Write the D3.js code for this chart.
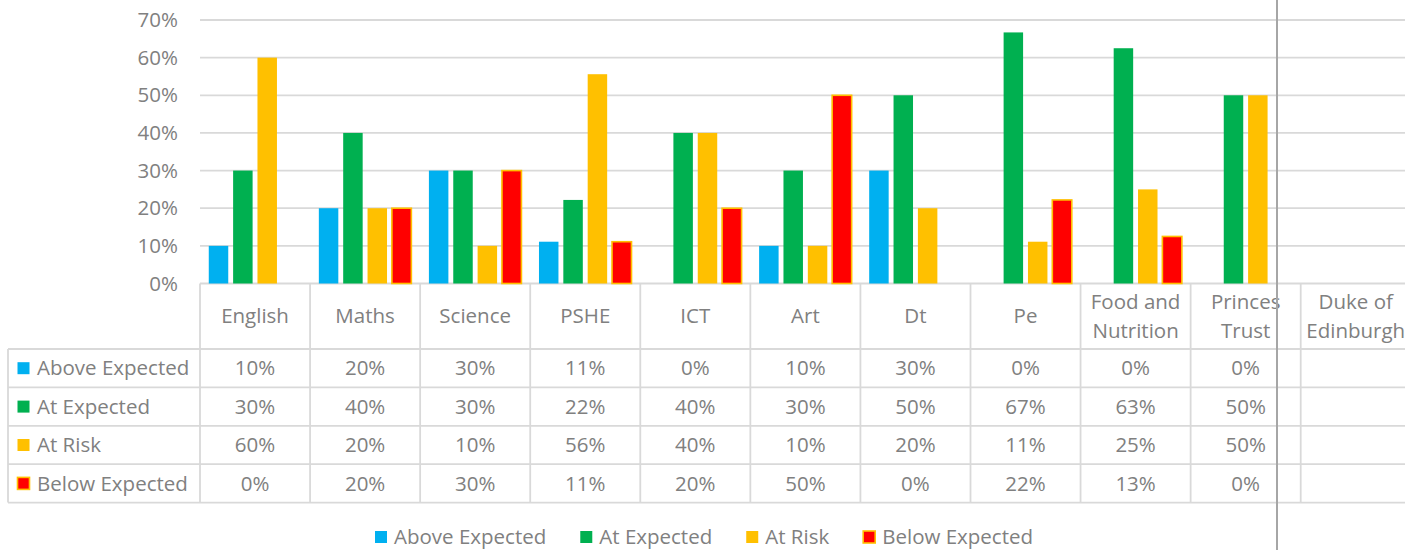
<!DOCTYPE html>
<html lang="en">
<head>
  <meta charset="UTF-8">
  <title>Progress by subject</title>
  <script src="https://d3js.org/d3.v7.min.js"></script>
  <style>
    body { margin: 0; background: #fff; overflow: hidden; }
    svg { display: block; }
    text { font-family: "Open Sans", sans-serif; font-size: 20.5px; fill: #808080; }
  </style>
</head>
<body>
  <svg id="chart" width="1405" height="550"></svg>

  <script>
    // subjects (x categories) and header labels split on lines
    const subjects = ["English", "Maths", "Science", "PSHE", "ICT", "Art", "Dt", "Pe",
      "Food and Nutrition", "Princes Trust", "Duke of Edinburgh"];
    const headerLines = [["English"], ["Maths"], ["Science"], ["PSHE"], ["ICT"], ["Art"], ["Dt"], ["Pe"],
      ["Food and", "Nutrition"], ["Princes", "Trust"], ["Duke of", "Edinburgh"]];

    const seriesNames = ["Above Expected", "At Expected", "At Risk", "Below Expected"];
    const seriesColors = ["#00B0F0", "#00B050", "#FFC000", "#FF0000"];

    // values in %, null = no data
    const aboveExpected = [10, 20, 30, 11.1, 0, 10, 30, 0, 0, 0, null];
    const atExpected    = [30, 40, 30, 22.2, 40, 30, 50, 66.7, 62.5, 50, null];
    const atRisk        = [60, 20, 10, 55.6, 40, 10, 20, 11.1, 25, 50, null];
    const belowExpected = [0, 20, 30, 11.1, 20, 50, 0, 22.2, 12.5, 0, null];

    const yTicks = [0, 10, 20, 30, 40, 50, 60, 70];

    const series = [aboveExpected, atExpected, atRisk, belowExpected];

    const svg = d3.select("#chart");
    const plotLeft = 200, colW = 110.07;
    const y0 = 283.5, yTop = 20;

    const x = d3.scaleBand().domain(subjects)
      .range([plotLeft, plotLeft + colW * subjects.length]);
    const xs = d3.scaleBand().domain(seriesNames)
      .range([0, x.bandwidth()]).paddingInner(0.2).paddingOuter(0.36);
    const y = d3.scaleLinear().domain([0, 70]).range([y0, yTop]);

    // gridlines
    svg.append("g").selectAll("line").data(yTicks).join("line")
      .attr("x1", plotLeft).attr("x2", 1405)
      .attr("y1", d => y(d)).attr("y2", d => y(d))
      .attr("stroke", "#D9D9D9").attr("stroke-width", 1.8);

    // y labels
    svg.append("g").selectAll("text").data(yTicks).join("text")
      .attr("x", 178).attr("y", d => y(d)).attr("dy", "0.35em")
      .attr("text-anchor", "end")
      .text(d => d + "%");

    // bars
    const barData = [];
    series.forEach((vals, si) => vals.forEach((v, ci) => {
      if (v) barData.push({ s: seriesNames[si], si, cat: subjects[ci], v });
    }));
    svg.append("g").selectAll("rect").data(barData).join("rect")
      .attr("x", d => x(d.cat) + xs(d.s))
      .attr("y", d => y(d.v))
      .attr("width", xs.bandwidth())
      .attr("height", d => y0 - y(d.v))
      .attr("fill", d => seriesColors[d.si])
      .attr("stroke", d => d.si === 3 ? "#FFC000" : "none")
      .attr("stroke-width", 1.6);

    // data table
    const rowTop = 349, rowH = 38.4, tableLeft = 8;
    const rowY = i => rowTop + i * rowH;
    const tableRight = plotLeft + colW * subjects.length;
    const grid = svg.append("g").attr("stroke", "#D9D9D9").attr("stroke-width", 1.8);
    // horizontal rules
    d3.range(seriesNames.length + 1).forEach(i => {
      grid.append("line").attr("x1", tableLeft).attr("x2", tableRight)
        .attr("y1", rowY(i)).attr("y2", rowY(i));
    });
    // verticals
    d3.range(subjects.length + 1).forEach(i => {
      const xx = plotLeft + i * colW;
      grid.append("line").attr("x1", xx).attr("x2", xx)
        .attr("y1", y0).attr("y2", rowY(seriesNames.length));
    });
    grid.append("line").attr("x1", tableLeft).attr("x2", tableLeft)
      .attr("y1", rowTop).attr("y2", rowY(seriesNames.length));

    // header labels
    const head = svg.append("g");
    headerLines.forEach((lines, i) => {
      const cx = x(subjects[i]) + x.bandwidth() / 2;
      const midY = (y0 + rowTop) / 2;
      lines.forEach((ln, j) => {
        head.append("text")
          .attr("x", cx)
          .attr("y", midY + (j - (lines.length - 1) / 2) * 29)
          .attr("dy", "0.35em")
          .attr("text-anchor", "middle")
          .text(ln);
      });
    });

    // row labels with keys, values
    const body = svg.append("g");
    seriesNames.forEach((name, si) => {
      const cy = rowY(si) + rowH / 2;
      body.append("rect")
        .attr("x", 17.5).attr("y", cy - 6).attr("width", 12).attr("height", 12)
        .attr("fill", seriesColors[si])
        .attr("stroke", si === 3 ? "#FFC000" : "none").attr("stroke-width", 1.6);
      body.append("text").attr("x", 37).attr("y", cy).attr("dy", "0.35em").text(name);
      series[si].forEach((v, ci) => {
        if (v === null) return;
        body.append("text")
          .attr("x", x(subjects[ci]) + x.bandwidth() / 2)
          .attr("y", cy).attr("dy", "0.35em")
          .attr("text-anchor", "middle")
          .text(Math.round(v) + "%");
      });
    });

    // vertical divider on the right
    svg.append("line").attr("x1", 1277).attr("x2", 1277).attr("y1", 0).attr("y2", 550)
      .attr("stroke", "#A6A6A6").attr("stroke-width", 2);

    // bottom legend
    const legend = svg.append("g");
    let lx = 375;
    const ly = 537;
    seriesNames.forEach((name, si) => {
      legend.append("rect")
        .attr("x", lx).attr("y", ly - 6).attr("width", 12).attr("height", 12)
        .attr("fill", seriesColors[si])
        .attr("stroke", si === 3 ? "#FFC000" : "none").attr("stroke-width", 1.6);
      const t = legend.append("text").attr("x", lx + 19).attr("y", ly).attr("dy", "0.35em").text(name);
      lx += 19 + t.node().getComputedTextLength() + 34;
    });
  </script>
</body>
</html>
